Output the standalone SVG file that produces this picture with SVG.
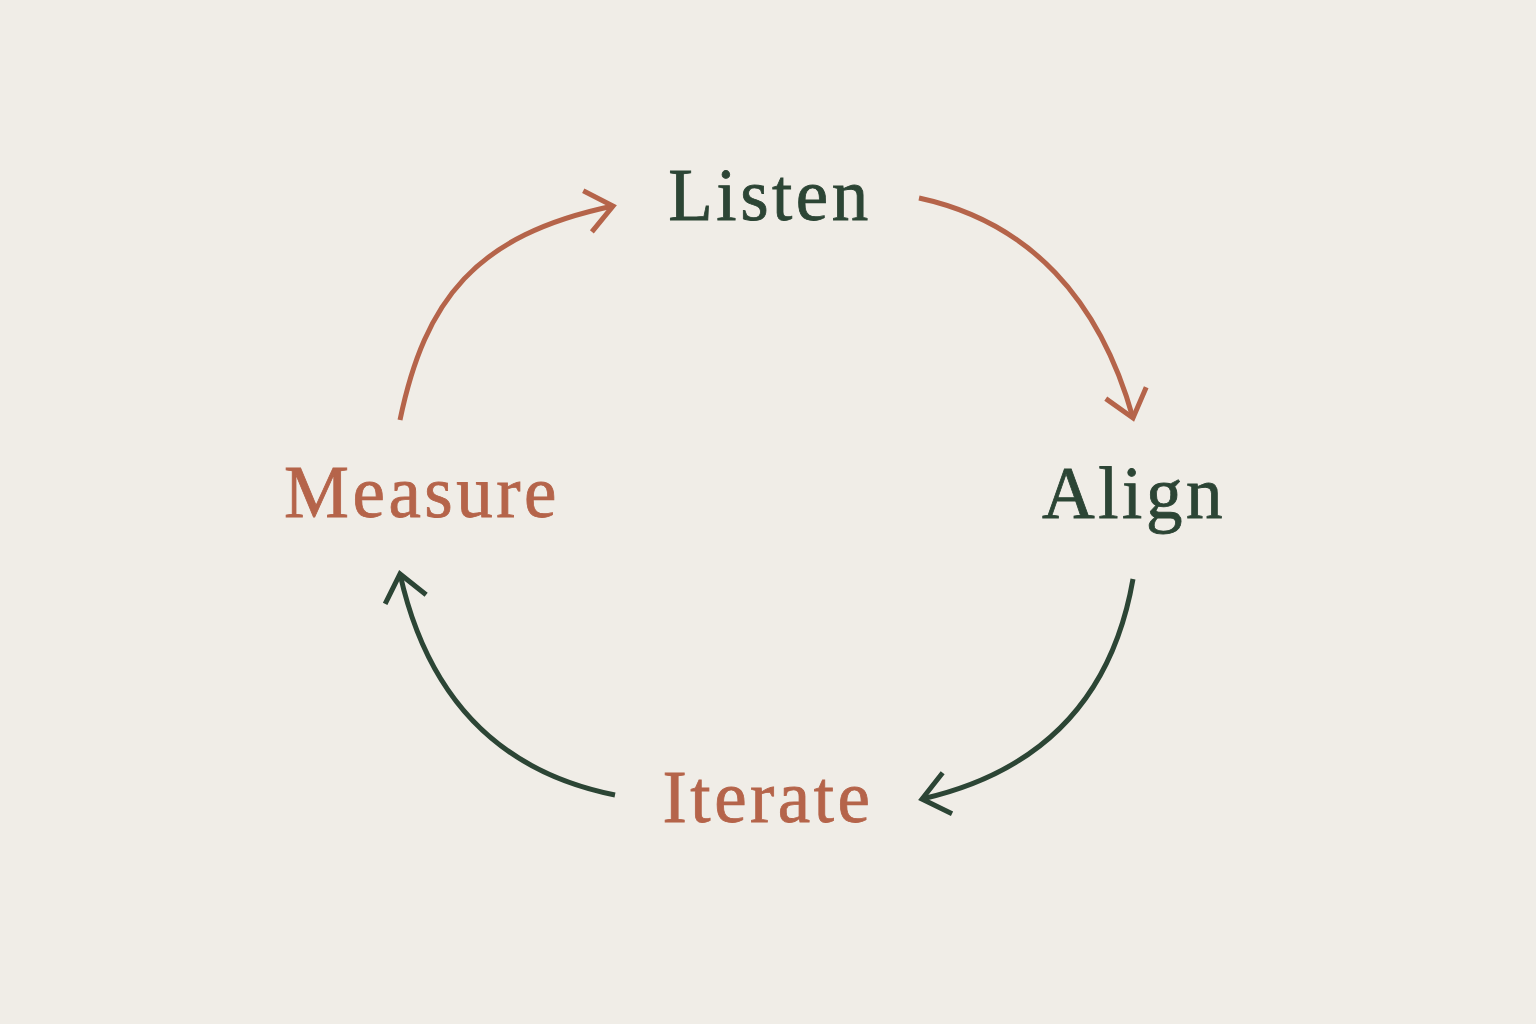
<svg xmlns="http://www.w3.org/2000/svg" width="1536" height="1024" viewBox="0 0 1536 1024">
<style>
.lbl{font-family:"Liberation Serif","Times New Roman",serif;font-size:73px;letter-spacing:3.5px;text-anchor:middle;stroke-width:0.8px}
.green{fill:#2c4535;stroke:#2c4535}
.rust{fill:#b5644a;stroke:#b5644a}
.conn{fill:none;stroke-width:5;stroke-linecap:butt}
.c-rust{stroke:#b5644a}
.c-green{stroke:#2c4535}
</style>
<defs>
<marker id="ahRust" markerUnits="userSpaceOnUse" markerWidth="70" markerHeight="70" viewBox="-40 -35 70 70" refX="0" refY="0" orient="auto" overflow="visible">
<path d="M-26,-21 L0,0 L-26,21" fill="none" stroke="#b5644a" stroke-width="5" stroke-linejoin="miter"/>
</marker>
<marker id="ahGreen" markerUnits="userSpaceOnUse" markerWidth="70" markerHeight="70" viewBox="-40 -35 70 70" refX="0" refY="0" orient="auto" overflow="visible">
<path d="M-26,-21 L0,0 L-26,21" fill="none" stroke="#2c4535" stroke-width="5" stroke-linejoin="miter"/>
</marker>
</defs>
<rect width="1536" height="1024" fill="#f0ede7"/>
<g id="connectors">
<path class="conn c-rust" d="M400,420 C425,300 475,235 613,206" marker-end="url(#ahRust)"/>
<path class="conn c-rust" d="M919,198 C1030,222 1100,300 1133,418" marker-end="url(#ahRust)"/>
<path class="conn c-green" d="M1133,579 C1112,700 1040,772 922,799" marker-end="url(#ahGreen)"/>
<path class="conn c-green" d="M615,795 C500,772 428,700 400,574" marker-end="url(#ahGreen)"/>
</g>
<g id="node-listen"><text class="lbl green" x="770" y="220">Listen</text></g>
<g id="node-align"><text class="lbl green" x="1134" y="518">Align</text></g>
<g id="node-iterate"><text class="lbl rust" x="768" y="822">Iterate</text></g>
<g id="node-measure"><text class="lbl rust" x="422" y="517">Measure</text></g>
</svg>
